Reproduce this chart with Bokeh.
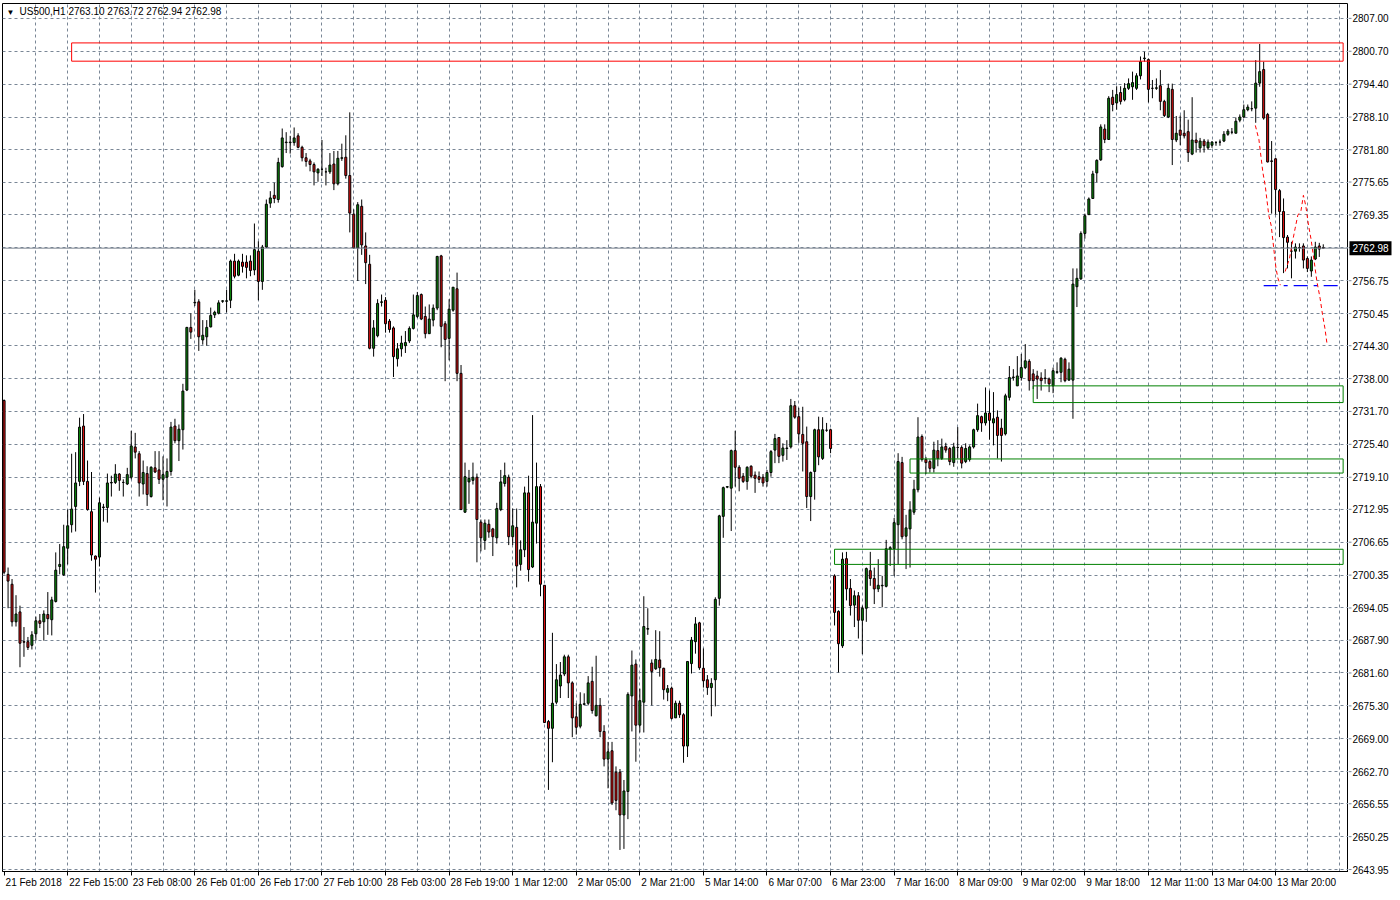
import numpy as np
from bokeh.plotting import figure
from bokeh.layouts import row
from bokeh.models import (FixedTicker, Label, Span, ColumnDataSource, Range1d, LinearAxis)
from bokeh.core.properties import value
from bokeh.embed import file_html
from bokeh.resources import INLINE

# ---------------- data (US500, H1) ----------------
opens = [
    2733.8, 2700.5, 2698.6, 2691.4, 2693.3, 2687.6, 2687.6, 2686.9, 2689.1, 2691.6,
    2691.4, 2692.8, 2691.8, 2695.3, 2702.0, 2700.4, 2705.5, 2710.0, 2713.5, 2718.3,
    2728.9, 2718.3, 2712.5, 2704.0, 2703.8, 2713.3, 2713.3, 2718.0, 2718.1, 2719.7,
    2718.1, 2717.8, 2719.1, 2724.9, 2723.6, 2717.8, 2719.8, 2715.4, 2720.9, 2720.5,
    2718.7, 2719.1, 2720.2, 2728.9, 2726.1, 2728.2, 2735.8, 2747.8, 2752.5, 2752.7,
    2745.4, 2746.0, 2747.9, 2750.2, 2750.5, 2752.8, 2752.8, 2753.0, 2760.5, 2757.8,
    2760.3, 2760.3, 2760.5, 2758.8, 2762.4, 2756.6, 2763.2, 2771.6, 2773.1, 2772.3,
    2778.6, 2783.2, 2783.2, 2783.2, 2784.5, 2782.3, 2780.3, 2779.7, 2779.0, 2777.4,
    2778.1, 2777.6, 2777.6, 2779.1, 2775.3, 2780.2, 2780.4, 2776.9, 2769.5, 2763.0,
    2771.0, 2763.4, 2759.9, 2743.8, 2746.2, 2752.6, 2753.0, 2749.0, 2747.7, 2741.8,
    2743.7, 2744.3, 2745.2, 2747.6, 2749.9, 2754.1, 2749.9, 2746.6, 2749.2, 2751.5,
    2761.5, 2748.5, 2745.7, 2751.1, 2755.2, 2739.0, 2712.4, 2718.2, 2718.5, 2719.1,
    2710.5, 2707.0, 2710.1, 2709.2, 2707.5, 2712.9, 2717.9, 2719.1, 2707.7, 2709.5,
    2702.4, 2705.2, 2716.1, 2701.9, 2710.3, 2717.3, 2698.4, 2672.3, 2671.0, 2676.0,
    2679.1, 2681.4, 2684.7, 2679.7, 2673.2, 2671.4, 2675.6, 2675.8, 2680.0, 2673.4,
    2675.4, 2670.4, 2665.1, 2666.7, 2662.6, 2662.6, 2654.4, 2658.9, 2677.2, 2683.3,
    2671.6, 2676.0, 2690.0, 2683.5, 2682.4, 2684.1, 2682.5, 2677.9, 2678.7, 2673.0,
    2675.8, 2673.6, 2667.6, 2683.4, 2687.6, 2691.2, 2682.5, 2680.3, 2678.8, 2680.3,
    2695.9, 2711.6, 2717.2, 2717.0, 2724.2, 2721.0, 2719.3, 2718.3, 2721.2, 2719.5,
    2719.2, 2719.1, 2718.3, 2720.0, 2724.3, 2726.7, 2723.3, 2724.6, 2724.9, 2732.8,
    2730.7, 2727.3, 2725.9, 2715.4, 2720.2, 2728.2, 2722.7, 2728.1, 2728.2, 2700.2,
    2693.4, 2686.8, 2703.5, 2697.8, 2694.6, 2696.4, 2691.7, 2694.0, 2701.2, 2699.7,
    2697.7, 2698.3, 2698.2, 2705.3, 2705.4, 2710.0, 2721.9, 2707.8, 2709.2, 2712.4,
    2716.7, 2726.9, 2722.5, 2722.1, 2720.8, 2724.2, 2722.7, 2725.0, 2724.6, 2721.9,
    2724.8, 2724.8, 2722.1, 2722.5, 2724.9, 2728.2, 2730.7, 2729.5, 2731.4, 2729.5,
    2730.6, 2728.5, 2727.4, 2734.4, 2738.2, 2736.6, 2738.2, 2740.1, 2741.3, 2738.9,
    2738.5, 2738.1, 2738.1, 2737.9, 2736.6, 2739.2, 2739.2, 2741.7, 2737.7, 2737.7,
    2755.6, 2757.1, 2765.8, 2769.4, 2772.5, 2777.4, 2779.9, 2785.8, 2783.8, 2791.9,
    2790.8, 2792.8, 2791.4, 2793.6, 2793.9, 2793.6, 2796.0, 2799.3, 2799.1, 2793.6,
    2793.6, 2794.1, 2791.1, 2788.1, 2793.4, 2783.7, 2785.6, 2785.0, 2785.3, 2781.0,
    2783.7, 2782.2, 2783.5, 2782.2, 2782.7, 2783.2, 2783.3, 2783.5, 2784.8, 2785.2,
    2785.0, 2787.5, 2788.1, 2789.5, 2789.7, 2789.8, 2794.6, 2797.2, 2788.6, 2779.7,
    2780.1, 2774.0, 2770.0, 2765.1, 2762.4, 2762.4, 2763.1, 2763.4, 2761.0, 2758.6,
    2760.9, 2763.4, 2763.10,
]
highs = [
    2734.0, 2701.8, 2699.6, 2696.5, 2694.5, 2690.4, 2688.5, 2689.6, 2692.4, 2692.9,
    2693.6, 2697.1, 2696.2, 2704.7, 2706.3, 2710.0, 2712.9, 2723.6, 2723.9, 2730.5,
    2731.2, 2722.3, 2720.1, 2704.1, 2715.2, 2714.0, 2719.8, 2719.4, 2721.6, 2719.9,
    2718.7, 2720.9, 2728.0, 2727.6, 2724.1, 2722.3, 2721.2, 2721.2, 2724.1, 2724.1,
    2723.1, 2722.7, 2729.7, 2730.3, 2729.2, 2737.0, 2747.9, 2750.5, 2755.0, 2753.2,
    2749.2, 2749.2, 2751.6, 2751.0, 2753.0, 2753.0, 2755.0, 2760.8, 2761.9, 2760.8,
    2761.9, 2761.6, 2761.6, 2767.7, 2764.3, 2763.6, 2772.3, 2773.9, 2775.5, 2780.3,
    2785.9, 2785.2, 2784.5, 2786.1, 2785.0, 2782.6, 2781.2, 2780.1, 2779.4, 2778.3,
    2783.7, 2778.4, 2781.2, 2781.6, 2781.6, 2783.0, 2784.6, 2789.0, 2770.4, 2771.8,
    2772.3, 2766.0, 2761.7, 2749.2, 2753.2, 2754.1, 2753.6, 2749.4, 2748.0, 2744.8,
    2746.2, 2747.1, 2748.0, 2754.1, 2754.6, 2754.3, 2751.8, 2752.2, 2752.2, 2761.5,
    2761.7, 2749.0, 2753.2, 2755.5, 2758.3, 2740.6, 2721.9, 2720.5, 2721.9, 2719.8,
    2711.0, 2711.0, 2711.0, 2709.4, 2714.2, 2720.5, 2721.9, 2719.6, 2713.1, 2713.1,
    2707.0, 2717.3, 2719.4, 2731.0, 2721.9, 2717.8, 2698.4, 2672.6, 2689.3, 2683.3,
    2683.7, 2685.1, 2685.1, 2680.0, 2675.8, 2677.9, 2677.7, 2681.0, 2682.8, 2684.9,
    2676.8, 2671.6, 2668.4, 2668.4, 2663.7, 2663.2, 2661.1, 2677.9, 2685.9, 2684.2,
    2678.6, 2696.3, 2694.0, 2684.2, 2689.8, 2689.6, 2682.6, 2679.3, 2679.0, 2676.3,
    2676.3, 2673.9, 2683.9, 2688.5, 2692.3, 2691.4, 2686.3, 2681.2, 2680.6, 2696.1,
    2711.9, 2717.3, 2717.4, 2724.4, 2728.0, 2721.4, 2719.9, 2721.2, 2721.4, 2720.2,
    2720.2, 2719.7, 2720.5, 2724.3, 2727.4, 2726.8, 2725.6, 2726.2, 2734.1, 2733.7,
    2732.4, 2732.6, 2728.8, 2720.2, 2728.4, 2730.7, 2730.6, 2729.5, 2728.4, 2700.5,
    2693.6, 2704.7, 2704.8, 2699.6, 2697.4, 2697.1, 2694.5, 2701.8, 2704.8, 2701.8,
    2703.4, 2700.2, 2707.1, 2705.9, 2711.3, 2723.7, 2723.0, 2711.9, 2714.5, 2718.6,
    2730.6, 2727.3, 2723.0, 2722.5, 2725.9, 2726.2, 2726.5, 2725.7, 2724.9, 2725.7,
    2728.7, 2725.2, 2725.6, 2725.2, 2728.4, 2733.2, 2730.9, 2736.3, 2735.7, 2735.4,
    2731.9, 2730.3, 2735.1, 2740.4, 2739.8, 2742.3, 2742.7, 2744.6, 2741.7, 2739.8,
    2739.5, 2739.2, 2739.8, 2738.2, 2740.1, 2741.1, 2742.1, 2742.0, 2741.1, 2759.1,
    2759.1, 2766.2, 2769.6, 2772.7, 2777.8, 2780.0, 2786.7, 2786.7, 2792.1, 2793.3,
    2794.0, 2794.0, 2794.6, 2795.5, 2796.8, 2796.5, 2799.7, 2800.6, 2799.3, 2795.2,
    2795.5, 2797.1, 2791.4, 2794.5, 2794.5, 2788.3, 2788.4, 2789.4, 2787.6, 2791.9,
    2785.1, 2784.1, 2783.9, 2783.8, 2783.5, 2783.5, 2783.8, 2785.4, 2785.8, 2786.0,
    2788.0, 2788.6, 2790.5, 2790.5, 2791.1, 2799.0, 2802.1, 2798.7, 2788.9, 2783.5,
    2780.3, 2774.3, 2772.5, 2765.5, 2764.2, 2763.9, 2763.9, 2763.9, 2761.4, 2761.4,
    2764.2, 2764.0, 2763.72,
]
lows = [
    2700.5, 2694.0, 2690.5, 2690.5, 2682.7, 2684.7, 2686.0, 2686.1, 2687.8, 2690.2,
    2687.8, 2688.9, 2688.8, 2695.1, 2700.5, 2700.2, 2702.4, 2708.5, 2708.7, 2717.4,
    2717.6, 2712.7, 2703.1, 2697.0, 2702.0, 2710.6, 2710.4, 2715.4, 2717.8, 2716.5,
    2715.4, 2717.6, 2718.7, 2722.7, 2715.4, 2715.8, 2713.6, 2715.2, 2719.9, 2717.8,
    2714.7, 2713.5, 2719.4, 2725.6, 2722.2, 2724.4, 2735.6, 2745.6, 2751.9, 2743.3,
    2744.5, 2744.3, 2747.8, 2749.6, 2750.3, 2752.5, 2750.7, 2751.5, 2757.2, 2757.6,
    2758.3, 2757.2, 2757.6, 2757.8, 2753.0, 2755.0, 2763.0, 2770.7, 2771.6, 2771.7,
    2778.4, 2781.2, 2781.1, 2782.6, 2782.1, 2779.6, 2778.6, 2777.7, 2775.0, 2775.7,
    2776.8, 2775.0, 2777.2, 2774.1, 2775.0, 2779.7, 2776.3, 2766.0, 2762.9, 2756.7,
    2761.7, 2756.1, 2743.6, 2742.2, 2745.9, 2751.8, 2746.8, 2746.8, 2738.3, 2740.3,
    2742.2, 2742.9, 2744.8, 2747.4, 2749.6, 2749.2, 2745.7, 2746.6, 2748.0, 2751.1,
    2744.0, 2737.5, 2741.5, 2750.8, 2737.5, 2712.9, 2712.3, 2714.0, 2717.7, 2702.8,
    2704.9, 2705.2, 2707.5, 2704.0, 2706.4, 2712.6, 2717.3, 2706.1, 2706.1, 2698.0,
    2701.2, 2703.8, 2699.1, 2701.7, 2706.4, 2696.3, 2672.1, 2659.2, 2664.5, 2675.6,
    2676.8, 2681.0, 2676.8, 2669.3, 2669.8, 2671.0, 2675.4, 2675.4, 2673.8, 2673.3,
    2669.3, 2663.7, 2659.5, 2656.3, 2655.3, 2647.7, 2647.9, 2653.6, 2670.4, 2664.6,
    2670.2, 2670.2, 2688.9, 2675.4, 2682.2, 2680.9, 2676.5, 2676.2, 2672.7, 2673.0,
    2673.0, 2664.4, 2665.5, 2681.5, 2685.3, 2682.2, 2678.8, 2677.4, 2673.3, 2675.2,
    2694.5, 2707.5, 2717.0, 2708.8, 2717.3, 2716.4, 2718.0, 2716.7, 2718.9, 2716.1,
    2718.0, 2717.3, 2717.3, 2719.2, 2721.8, 2721.8, 2722.1, 2722.4, 2724.6, 2730.3,
    2725.7, 2720.2, 2713.2, 2710.7, 2714.8, 2721.4, 2722.4, 2727.8, 2723.7, 2690.7,
    2681.7, 2686.4, 2695.5, 2692.6, 2690.4, 2688.2, 2685.2, 2691.4, 2698.3, 2694.8,
    2697.1, 2694.2, 2698.0, 2702.1, 2700.2, 2702.4, 2707.2, 2701.5, 2701.8, 2711.9,
    2716.2, 2722.1, 2719.7, 2720.0, 2720.0, 2721.2, 2722.4, 2723.8, 2721.4, 2721.1,
    2722.7, 2720.8, 2721.8, 2722.1, 2724.6, 2727.8, 2727.8, 2729.0, 2726.3, 2725.2,
    2722.7, 2722.1, 2727.1, 2733.8, 2737.6, 2736.6, 2737.6, 2739.8, 2735.7, 2736.0,
    2734.1, 2735.7, 2737.0, 2735.4, 2735.2, 2738.9, 2737.3, 2737.3, 2737.6, 2730.3,
    2751.7, 2756.9, 2764.8, 2769.4, 2772.4, 2775.6, 2779.7, 2783.1, 2783.7, 2789.2,
    2789.5, 2790.5, 2791.1, 2793.3, 2791.4, 2793.3, 2795.3, 2798.7, 2790.9, 2791.7,
    2793.3, 2789.4, 2788.1, 2787.9, 2778.9, 2783.3, 2782.7, 2784.0, 2779.5, 2780.8,
    2781.3, 2781.3, 2781.3, 2781.8, 2782.2, 2782.6, 2782.6, 2783.3, 2784.5, 2784.8,
    2785.0, 2787.1, 2787.9, 2789.2, 2789.2, 2787.0, 2793.9, 2787.6, 2779.4, 2769.6,
    2769.4, 2765.1, 2758.2, 2759.1, 2757.2, 2761.0, 2762.3, 2759.1, 2758.4, 2757.5,
    2760.7, 2761.3, 2762.94,
]
closes = [
    2700.9, 2699.2, 2691.4, 2692.9, 2687.3, 2687.5, 2686.5, 2688.9, 2691.6, 2691.1,
    2692.9, 2692.0, 2695.6, 2701.3, 2702.4, 2705.8, 2709.8, 2713.0, 2718.0, 2728.7,
    2718.3, 2712.9, 2704.2, 2703.4, 2714.2, 2713.4, 2718.0, 2718.1, 2719.7, 2718.5,
    2718.1, 2719.6, 2725.1, 2723.9, 2718.0, 2720.0, 2715.8, 2721.0, 2720.1, 2718.7,
    2719.6, 2720.2, 2728.7, 2726.1, 2728.3, 2735.6, 2747.8, 2746.9, 2752.6, 2746.0,
    2746.3, 2747.8, 2750.1, 2750.7, 2752.5, 2752.9, 2752.9, 2760.5, 2757.6, 2760.5,
    2759.5, 2759.3, 2758.7, 2762.7, 2756.6, 2763.2, 2771.4, 2772.6, 2772.5, 2779.4,
    2784.1, 2783.3, 2783.3, 2784.1, 2782.3, 2780.3, 2779.6, 2779.0, 2777.6, 2778.1,
    2778.1, 2777.6, 2778.9, 2775.3, 2780.2, 2780.3, 2776.9, 2769.7, 2763.0, 2771.3,
    2763.6, 2760.2, 2743.8, 2747.7, 2752.4, 2752.7, 2748.5, 2747.4, 2742.2, 2743.7,
    2744.8, 2744.9, 2747.6, 2750.2, 2753.9, 2749.4, 2746.6, 2749.4, 2751.5, 2761.4,
    2748.0, 2745.5, 2751.3, 2755.5, 2739.0, 2712.9, 2719.2, 2718.9, 2719.1, 2711.0,
    2707.5, 2710.3, 2708.6, 2707.7, 2713.1, 2718.2, 2719.4, 2707.7, 2709.8, 2702.1,
    2705.2, 2716.1, 2701.4, 2710.5, 2717.3, 2698.6, 2672.1, 2671.0, 2675.8, 2680.3,
    2681.2, 2684.7, 2679.7, 2673.0, 2671.2, 2675.6, 2675.7, 2679.7, 2674.4, 2675.4,
    2670.4, 2665.1, 2666.5, 2656.7, 2657.2, 2654.4, 2659.0, 2677.5, 2683.1, 2671.6,
    2676.3, 2690.5, 2690.1, 2681.9, 2684.2, 2682.6, 2678.4, 2678.6, 2672.9, 2675.8,
    2673.6, 2667.6, 2683.8, 2687.9, 2691.0, 2682.6, 2680.1, 2678.8, 2679.6, 2695.7,
    2711.7, 2717.1, 2717.3, 2724.2, 2721.0, 2718.9, 2718.3, 2721.0, 2719.3, 2718.9,
    2718.7, 2718.0, 2720.0, 2724.0, 2726.5, 2723.1, 2724.7, 2724.7, 2732.8, 2730.6,
    2727.4, 2725.6, 2715.4, 2720.0, 2728.2, 2723.0, 2728.2, 2728.1, 2724.6, 2693.2,
    2687.2, 2703.4, 2697.7, 2694.5, 2696.4, 2691.7, 2694.0, 2701.6, 2699.7, 2697.7,
    2698.4, 2698.4, 2705.4, 2705.6, 2710.4, 2722.1, 2707.7, 2709.4, 2712.8, 2716.8,
    2726.8, 2722.5, 2721.9, 2720.8, 2724.3, 2722.7, 2724.9, 2724.3, 2722.1, 2724.9,
    2724.8, 2721.8, 2724.6, 2724.9, 2728.2, 2730.9, 2729.5, 2731.4, 2730.0, 2730.3,
    2727.1, 2727.1, 2734.7, 2738.2, 2738.3, 2738.5, 2740.1, 2741.4, 2737.6, 2737.6,
    2737.9, 2737.6, 2738.0, 2737.0, 2739.5, 2739.3, 2741.9, 2737.6, 2739.8, 2756.1,
    2757.2, 2765.8, 2769.2, 2772.4, 2777.2, 2779.8, 2786.2, 2783.8, 2791.7, 2790.5,
    2792.4, 2791.1, 2793.6, 2794.5, 2794.7, 2796.0, 2798.7, 2799.4, 2793.4, 2793.6,
    2793.7, 2791.1, 2788.4, 2793.6, 2783.8, 2785.0, 2784.6, 2784.5, 2781.3, 2783.7,
    2783.2, 2783.5, 2782.6, 2783.3, 2783.3, 2783.2, 2783.3, 2784.8, 2785.4, 2785.2,
    2787.3, 2788.1, 2789.5, 2790.0, 2789.7, 2794.6, 2796.8, 2787.9, 2779.5, 2779.6,
    2774.2, 2770.0, 2765.0, 2764.1, 2762.4, 2763.2, 2763.0, 2760.7, 2759.1, 2760.7,
    2763.2, 2762.8, 2762.98,
]

symbol_text = "US500,H1  2763.10 2763.72 2762.94 2762.98"
last_price = 2762.98

x_tick_bars = [0, 16, 32, 48, 64, 80, 96, 112, 128, 144, 160, 176, 192, 208, 224,
               240, 256, 272, 288, 304, 320]
x_tick_labels = ["21 Feb 2018", "22 Feb 15:00", "23 Feb 08:00", "26 Feb 01:00",
                 "26 Feb 17:00", "27 Feb 10:00", "28 Feb 03:00", "28 Feb 19:00",
                 "1 Mar 12:00", "2 Mar 05:00", "2 Mar 21:00", "5 Mar 14:00",
                 "6 Mar 07:00", "6 Mar 23:00", "7 Mar 16:00", "8 Mar 09:00",
                 "9 Mar 02:00", "9 Mar 18:00", "12 Mar 11:00", "13 Mar 04:00",
                 "13 Mar 20:00"]
y_tick_labels = ["2807.00", "2800.70", "2794.40", "2788.10", "2781.80", "2775.65",
                 "2769.35", "2763.10", "2756.75", "2750.45", "2744.30", "2738.00",
                 "2731.70", "2725.40", "2719.10", "2712.95", "2706.65", "2700.35",
                 "2694.05", "2687.90", "2681.60", "2675.30", "2669.00", "2662.70",
                 "2656.55", "2650.25", "2643.95"]
hidden_y_label = "2763.10"   # covered by the last-price box

zone_left = [17, 259, 228, 209]
zone_right = [337, 337, 337, 337]
zone_bottom = [2798.8, 2733.4, 2719.9, 2702.4]
zone_top = [2802.3, 2736.6, 2722.6, 2705.3]
zone_color = ["#ff0000", "#008000", "#008000", "#008000"]

support_x = [317, 337]
support_y = [2755.8, 2755.8]

path_a_x = [314.9, 315.8, 316.8, 317.4, 318.3, 318.9, 319.5, 320.1, 320.6, 321.2]
path_a_y = [2786.5, 2783.8, 2777.5, 2774.9, 2769.2, 2767.3, 2763.2, 2759.1, 2757.2, 2755.9]
path_b_x = [322.4, 323.5, 324.1, 324.9, 325.6, 326.4, 327.0, 327.6, 328.3, 328.9,
            329.5, 330.4, 331.2, 331.8, 332.4, 332.9]
path_b_y = [2758.5, 2761.0, 2763.6, 2766.7, 2769.3, 2770.2, 2773.1, 2771.1, 2767.3, 2764.8,
            2761.6, 2756.6, 2753.4, 2750.3, 2747.7, 2744.9]

# ---------------- styling / layout ----------------
GREEN = "#0a8a0a"
RED = "#e01010"
GRID = "#7a8796"
FONT = "Liberation Sans"
FONT_PX = 10
X_START, X_END = -0.4, 338.35
Y_START, Y_END = 2643.57, 2809.85
FRAME_W, FRAME_H = 1346, 868
SCALE_W = 44            # width of the price-scale column
SCALE_EXTRA = 14        # price column reaches a little below the chart frame
PX_PER_BAR = FRAME_W / (X_END - X_START)
PRICE_PER_PX = (Y_END - Y_START) / FRAME_H

# ---------------- main chart ----------------
p = figure(frame_width=FRAME_W, frame_height=FRAME_H,
           x_range=Range1d(X_START, X_END), y_range=Range1d(Y_START, Y_END),
           y_axis_location=None, output_backend="svg", toolbar_location=None,
           min_border_left=2, min_border_top=3, min_border_right=0, min_border_bottom=0)
p.background_fill_color = "white"
p.border_fill_color = "white"
p.outline_line_color = "black"
p.outline_line_width = 1

# time scale: tick marks on the first axis, left-aligned labels on a second one
xax = p.xaxis[0]
xax.ticker = FixedTicker(ticks=x_tick_bars)
xax.major_label_overrides = {b: "" for b in x_tick_bars}
xax.major_label_text_font_size = "1px"
xax.major_label_standoff = 0
xax.major_tick_out = 4
xax.major_tick_in = 0
xax.major_tick_line_color = "black"
xax.minor_tick_line_color = None
xax.axis_line_color = "black"

EM = {" ": 0.278, ":": 0.278, "F": 0.611, "M": 0.833, "e": 0.556, "b": 0.556,
      "a": 0.556, "r": 0.333}
def text_px(s):
    return sum(EM.get(ch, 0.556) for ch in s) * FONT_PX

label_pos = [b + (text_px(s) / 2 + 1.5) / PX_PER_BAR for b, s in zip(x_tick_bars, x_tick_labels)]
label_axis = LinearAxis(
    ticker=FixedTicker(ticks=label_pos),
    major_label_overrides={pos: s for pos, s in zip(label_pos, x_tick_labels)},
    axis_line_color=None, major_tick_line_color=None, minor_tick_line_color=None,
    major_tick_out=0, major_tick_in=0, major_label_standoff=1,
    major_label_text_font=FONT, major_label_text_font_size=f"{FONT_PX}px",
    major_label_text_color="black")
p.add_layout(label_axis, "below")

y_ticks = [float(s) for s in y_tick_labels]
p.ygrid.ticker = FixedTicker(ticks=y_ticks)
p.xgrid.ticker = FixedTicker(ticks=list(range(8, 340, 8)))
for g in (p.xgrid, p.ygrid):
    g.grid_line_color = GRID
    g.grid_line_dash = "3 3"
    g.grid_line_width = 1

p.add_layout(Span(location=last_price, dimension="width", line_color="#7c8590", line_width=1))

o = np.array(opens)
c = np.array(closes)
src = ColumnDataSource(dict(
    x=np.arange(len(opens)),
    high=highs, low=lows,
    top=np.maximum(o, c), bottom=np.minimum(o, c),
    color=np.where(c >= o, GREEN, RED),
))
p.segment(x0="x", y0="low", x1="x", y1="high", source=src, line_color="black", line_width=1)
p.vbar(x="x", width=0.5, top="top", bottom="bottom", source=src,
       fill_color="color", line_color="black", line_width=1)

p.quad(left=zone_left, right=zone_right, bottom=zone_bottom, top=zone_top,
       fill_color=None, line_color=zone_color, line_width=1)

p.line(support_x, support_y, line_color="#0000ff", line_width=1.3, line_dash="14 6 4 6")
p.line(path_a_x, path_a_y, line_color="#ff0000", line_width=1, line_dash="4 3")
p.line(path_b_x, path_b_y, line_color="#ff0000", line_width=1, line_dash="4 3")

p.add_layout(Label(x=4, y=Y_END, x_units="screen", y_units="data", y_offset=-4,
                   text="▼", text_font=FONT, text_font_size="8px", text_color="black",
                   text_baseline="top"))
p.add_layout(Label(x=17, y=Y_END, x_units="screen", y_units="data", y_offset=-2,
                   text=symbol_text, text_font=FONT, text_font_size=f"{FONT_PX}px",
                   text_color="black", text_baseline="top"))

# ---------------- price scale column (same price-to-pixel scale) ----------------
s = figure(frame_width=SCALE_W, frame_height=FRAME_H + SCALE_EXTRA,
           x_range=Range1d(0, SCALE_W),
           y_range=Range1d(Y_START - SCALE_EXTRA * PRICE_PER_PX, Y_END),
           x_axis_location=None, y_axis_location=None, output_backend="svg",
           toolbar_location=None, min_border_left=0, min_border_top=3,
           min_border_right=0, min_border_bottom=0)
s.outline_line_color = None
s.background_fill_color = "white"
s.border_fill_color = "white"
s.xgrid.grid_line_color = None
s.ygrid.grid_line_color = None

scale_labels = [t for t in y_tick_labels if t != hidden_y_label]
scale_values = [float(t) for t in scale_labels]
s.segment(x0=0, x1=3, y0=y_ticks, y1=y_ticks, line_color=GRID, line_width=1)
s.text(x=4, y=scale_values, text=scale_labels, text_font=value(FONT),
       text_font_size=f"{FONT_PX}px", text_color="black", text_baseline="middle",
       text_align="left")
box_half = 7 * PRICE_PER_PX
s.quad(left=1, right=SCALE_W - 1, bottom=last_price - box_half, top=last_price + box_half,
       fill_color="black", line_color=None)
s.text(x=4, y=[last_price], text=[f"{last_price:.2f}"], text_font=value(FONT),
       text_font_size=f"{FONT_PX}px", text_color="white", text_baseline="middle",
       text_align="left")

layout = row(p, s, spacing=0)
open("out.html", "w").write(file_html(layout, INLINE))
